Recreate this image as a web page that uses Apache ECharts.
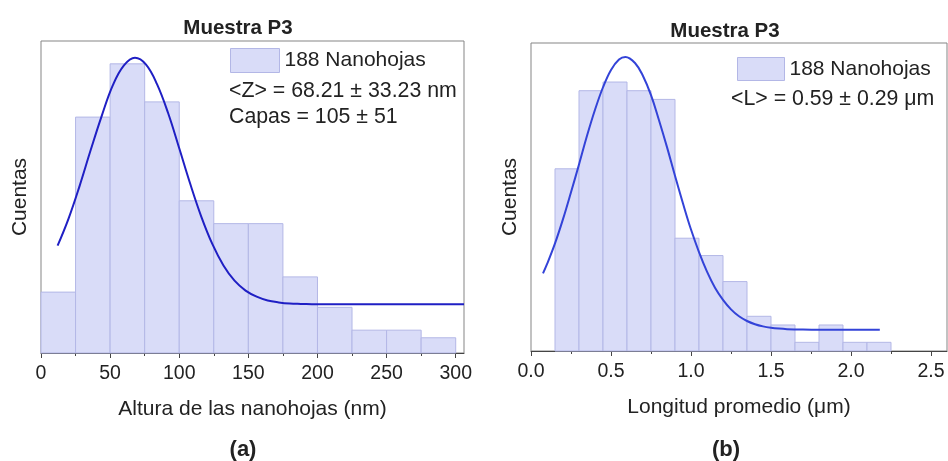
<!DOCTYPE html>
<html>
<head>
<meta charset="utf-8">
<script src="https://cdn.jsdelivr.net/npm/echarts@6/dist/echarts.min.js"></script>
<style>
  html, body { margin: 0; padding: 0; background: #fff; }
  #chart { width: 948px; height: 461px; }
</style>
</head>
<body>
<div id="chart"></div>
<script>
// (a) height histogram: 25 nm bins from 0 to 300 nm
const heightBinEdges = [0, 25, 50, 75, 100, 125, 150, 175, 200, 225, 250, 275, 300];
const heightCounts = [8, 31, 38, 33, 20, 17, 17, 10, 6, 3, 3, 2];
// fitted height distribution curve [nm, counts]
const heightFit = [
  [12, 14.1], [20, 17.7], [28, 22.0], [36, 26.7], [44, 31.2], [52, 35.2],
  [60, 37.8], [68, 38.8], [76, 37.9], [84, 35.3], [92, 31.5], [100, 26.9],
  [108, 22.2], [116, 17.9], [124, 14.3], [132, 11.5], [140, 9.5], [148, 8.2],
  [156, 7.4], [164, 6.9], [172, 6.65], [180, 6.5], [188, 6.45], [196, 6.42],
  [204, 6.4], [220, 6.4], [240, 6.4], [260, 6.4], [280, 6.4], [306, 6.4]
];
const heightTicks = [0, 50, 100, 150, 200, 250, 300];
const heightMinorTicks = [25, 75, 125, 175, 225, 275];

// (b) length histogram: 0.15 µm bins from 0.15 to 2.25 µm
const lengthBinEdges = [0.15, 0.3, 0.45, 0.6, 0.75, 0.9, 1.05, 1.2, 1.35, 1.5, 1.65, 1.8, 1.95, 2.1, 2.25];
const lengthCounts = [21, 30, 31, 30, 29, 13, 11, 8, 4, 3, 1, 3, 1, 1];
// fitted length distribution curve [µm, counts]
const lengthFit = [
  [0.075, 8.95], [0.1, 10.0], [0.15, 12.4], [0.2, 15.2], [0.25, 18.3], [0.3, 21.5],
  [0.35, 24.8], [0.4, 27.8], [0.45, 30.4], [0.5, 32.4], [0.55, 33.6], [0.59, 33.9],
  [0.65, 33.2], [0.7, 31.7], [0.75, 29.5], [0.8, 26.6], [0.85, 23.5], [0.9, 20.2],
  [0.95, 17.0], [1.0, 14.0], [1.05, 11.4], [1.1, 9.15], [1.15, 7.3], [1.2, 5.9],
  [1.25, 4.8], [1.3, 4.0], [1.35, 3.46], [1.4, 3.09], [1.45, 2.84], [1.5, 2.68],
  [1.55, 2.58], [1.6, 2.52], [1.7, 2.47], [1.8, 2.45], [1.9, 2.45], [2.0, 2.45],
  [2.1, 2.45], [2.18, 2.45]
];
const lengthTicks = [0, 0.5, 1.0, 1.5, 2.0, 2.5];
const lengthMinorTicks = [0.25, 0.75, 1.25, 1.75, 2.25];

const seriesName = '188 Nanohojas';
const FONT = '"Liberation Sans", Arial, sans-serif';
const barFill = '#d9dcf8';
const barEdge = '#b3b7e6';
const frameColor = '#858585';
const axisColor = '#444';
const textColor = '#222';

function binData(edges, counts) {
  return counts.map((c, i) => [edges[i], edges[i + 1], c]);
}

function histogramSeries(xi, yi, data) {
  return {
    type: 'custom',
    name: seriesName,
    xAxisIndex: xi,
    yAxisIndex: yi,
    encode: { x: [0, 1], y: 2 },
    itemStyle: { color: barFill, borderColor: barEdge, borderWidth: 1 },
    renderItem: function (params, api) {
      const p0 = api.coord([api.value(0), api.value(2)]);
      const p1 = api.coord([api.value(1), 0]);
      return {
        type: 'rect',
        shape: { x: p0[0], y: p0[1], width: p1[0] - p0[0], height: p1[1] - p0[1] },
        style: { fill: barFill, stroke: barEdge, lineWidth: 1 }
      };
    },
    data: data,
    z: 2
  };
}

function fitSeries(xi, yi, data, color) {
  return {
    type: 'line',
    xAxisIndex: xi,
    yAxisIndex: yi,
    data: data,
    smooth: 0.4,
    showSymbol: false,
    lineStyle: { color: color, width: 2 },
    silent: true,
    z: 3
  };
}

function mainXAxis(gi, max, ticks, nameText, fmt) {
  return {
    type: 'value',
    gridIndex: gi,
    min: 0,
    max: max,
    position: 'bottom',
    name: nameText,
    nameLocation: 'middle',
    nameGap: 46,
    nameTextStyle: { fontFamily: FONT, fontSize: 21, color: textColor },
    axisLine: { show: true, onZero: false, lineStyle: { color: axisColor, width: 1 } },
    axisTick: { show: true, length: 5, customValues: ticks, lineStyle: { color: axisColor } },
    axisLabel: { show: true, customValues: ticks, margin: 11, fontFamily: FONT, fontSize: 19.5, color: textColor, formatter: fmt },
    splitLine: { show: false }
  };
}

function minorXAxis(gi, max, ticks) {
  return {
    type: 'value',
    gridIndex: gi,
    min: 0,
    max: max,
    position: 'bottom',
    axisLine: { show: false, onZero: false },
    axisTick: { show: true, length: 3, customValues: ticks, lineStyle: { color: axisColor } },
    axisLabel: { show: false },
    splitLine: { show: false }
  };
}

function yAxis(gi, max) {
  return {
    type: 'value',
    gridIndex: gi,
    min: 0,
    max: max,
    name: 'Cuentas',
    nameLocation: 'middle',
    nameGap: 10,
    nameTextStyle: { fontFamily: FONT, fontSize: 21, color: textColor },
    axisLine: { show: false },
    axisTick: { show: false },
    axisLabel: { show: false },
    splitLine: { show: false }
  };
}

function legend(left, top, w, h) {
  return {
    left: left,
    top: top,
    orient: 'vertical',
    selectedMode: false,
    itemWidth: w,
    itemHeight: h,
    itemGap: 0,
    padding: 0,
    data: [{ name: seriesName, icon: 'rect' }],
    itemStyle: { color: barFill, borderColor: barEdge, borderWidth: 1 },
    textStyle: { fontFamily: FONT, fontSize: 21, color: textColor }
  };
}

function label(x, y, text, size, bold, align) {
  return {
    type: 'text',
    x: x,
    y: y,
    style: {
      text: text,
      fill: textColor,
      font: (bold ? 'bold ' : '') + size + 'px ' + FONT,
      align: align || 'center',
      verticalAlign: 'middle'
    },
    z: 10
  };
}

const chart = echarts.init(document.getElementById('chart'));
chart.setOption({
  animation: false,
  backgroundColor: '#fff',
  grid: [
    { left: 41, top: 41, width: 423, height: 312, show: true, borderColor: frameColor, borderWidth: 1, backgroundColor: 'transparent' },
    { left: 531, top: 43, width: 416, height: 308, show: true, borderColor: frameColor, borderWidth: 1, backgroundColor: 'transparent' }
  ],
  xAxis: [
    mainXAxis(0, 306, heightTicks, 'Altura de las nanohojas (nm)', v => String(v)),
    minorXAxis(0, 306, heightMinorTicks),
    mainXAxis(1, 2.6, lengthTicks, 'Longitud promedio (\u03BCm)', v => v.toFixed(1)),
    minorXAxis(1, 2.6, lengthMinorTicks)
  ],
  yAxis: [yAxis(0, 41), yAxis(1, 35.5)],
  legend: [legend(230, 48, 49, 24), legend(737, 57, 47, 23)],
  series: [
    histogramSeries(0, 0, binData(heightBinEdges, heightCounts)),
    fitSeries(0, 0, heightFit, '#1f1fc4'),
    histogramSeries(2, 1, binData(lengthBinEdges, lengthCounts)),
    fitSeries(2, 1, lengthFit, '#3343d8')
  ],
  graphic: [
    label(238, 28, 'Muestra P3', 20.5, true),
    label(725, 31, 'Muestra P3', 20.5, true),
    label(229, 91, '<Z> = 68.21 \u00B1 33.23 nm', 21.3, false, 'left'),
    label(229, 117, 'Capas = 105 \u00B1 51', 21.3, false, 'left'),
    label(731, 99, '<L> = 0.59 \u00B1 0.29 \u03BCm', 21.3, false, 'left'),
    label(243, 450, '(a)', 22, true),
    label(726, 450, '(b)', 22, true)
  ]
});
</script>
</body>
</html>
